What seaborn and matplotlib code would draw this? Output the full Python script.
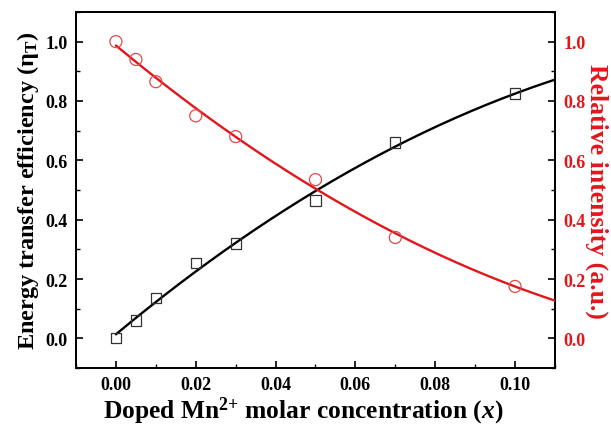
import numpy as np
import pandas as pd
import matplotlib
matplotlib.use("Agg")
import matplotlib.pyplot as plt
from matplotlib.ticker import MultipleLocator
import seaborn as sns

# Mn2+ concentration series
mn_conc = [0.0, 0.005, 0.01, 0.02, 0.03, 0.05, 0.07, 0.10]
transfer_eff = [0.0, 0.06, 0.135, 0.255, 0.32, 0.465, 0.66, 0.825]
rel_intensity = [1.0, 0.94, 0.865, 0.75, 0.68, 0.535, 0.34, 0.175]
x_ticks = [0.00, 0.02, 0.04, 0.06, 0.08, 0.10]
y_ticks = [0.0, 0.2, 0.4, 0.6, 0.8, 1.0]

sns.set_theme(style="ticks")
plt.rcParams.update({
    "font.family": ["Liberation Serif", "DejaVu Serif"],
    "font.weight": "bold",
    "axes.labelweight": "bold",
    "text.color": "black",
    "axes.labelcolor": "black",
    "xtick.color": "black",
    "ytick.color": "black",
    "mathtext.fontset": "custom",
    "mathtext.rm": "Liberation Serif:bold",
    "mathtext.bf": "Liberation Serif:bold",
    "mathtext.it": "Liberation Serif:italic:bold",
})

RED = "#e3161c"
df = pd.DataFrame({"x": mn_conc, "eff": transfer_eff, "inten": rel_intensity})

# quadratic fits evaluated across the plotted concentration range
grid = np.linspace(0.0, 0.11, 200)
fit_eff = np.polyval(np.polyfit(df["x"], df["eff"], 2), grid)
fit_int = np.polyval(np.polyfit(df["x"], df["inten"], 2), grid)

fig = plt.figure(figsize=(6.11, 4.27), dpi=100)
ax = fig.add_axes([0.1244, 0.1358, 0.7839, 0.8338])
ax2 = ax.twinx()

sns.lineplot(x=grid, y=fit_eff, ax=ax, color="black", lw=1.7, zorder=3)
sns.scatterplot(data=df, x="x", y="eff", ax=ax, marker="s", s=55,
                fc="none", ec="#333333", lw=0.9, zorder=4)
sns.lineplot(x=grid, y=fit_int, ax=ax2, color=RED, lw=1.7, zorder=3)
sns.scatterplot(data=df, x="x", y="inten", ax=ax2, marker="o", s=75,
                fc="none", ec="#e04a4a", lw=0.9, zorder=4)

for a in (ax, ax2):
    a.set_xlim(-0.01, 0.11)
    a.set_ylim(-0.1, 1.1)
    a.set_yticks(y_ticks)
    a.yaxis.set_minor_locator(MultipleLocator(0.1))
    for s in a.spines.values():
        s.set_linewidth(1.3)
        s.set_color("black")

ax.set_xticks(x_ticks)
ax.xaxis.set_minor_locator(MultipleLocator(0.01))
ax.set_xticklabels([f"{t:.2f}" for t in x_ticks])
ax.set_yticklabels([f"{t:.1f}" for t in y_ticks])
ax2.set_yticklabels([f"{t:.1f}" for t in y_ticks])

ax.tick_params(axis="both", which="major", direction="in", length=5, width=1.2,
               labelsize=13, pad=6, colors="black")
ax.tick_params(axis="both", which="minor", direction="in", length=3, width=1.0,
               colors="black")
ax.tick_params(axis="y", which="both", right=False)
ax.tick_params(axis="x", which="both", top=False)
ax2.tick_params(axis="y", which="major", direction="in", length=5, width=1.2,
                labelsize=13, pad=6, labelcolor=RED, color="black")
ax2.tick_params(axis="y", which="minor", direction="in", length=3, width=1.0,
                color="black")
for lab in ax.get_xticklabels() + ax.get_yticklabels() + ax2.get_yticklabels():
    lab.set_fontweight("bold")

ax.set_xlabel(r"Doped Mn$\mathregular{^{2{+}}}$ molar concentration ($\mathit{x}$)",
              fontsize=18.4, fontweight="bold", color="black")
ax.xaxis.set_label_coords(0.474, -0.075)
ax.set_ylabel(r"Energy transfer efficiency ($\mathregular{\eta_T}$)",
              fontsize=17.5, fontweight="bold", labelpad=3, color="black")
ax2.set_ylabel("Relative intensity (a.u.)", fontsize=18.5, fontweight="bold",
               color=RED, rotation=-90, va="center")
ax2.yaxis.set_label_coords(1.088, 0.5)

fig.savefig("out.png", dpi=100)
